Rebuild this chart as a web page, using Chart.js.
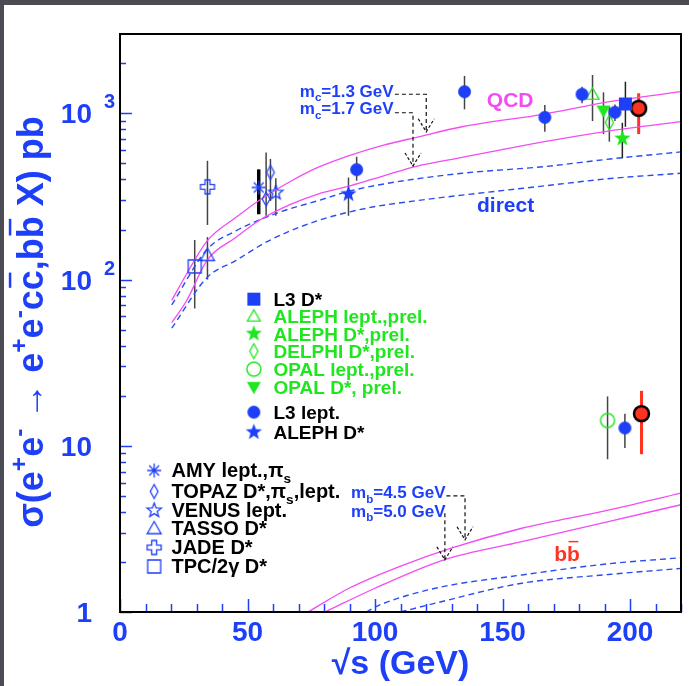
<!DOCTYPE html>
<html>
<head>
<meta charset="utf-8">
<script src="https://cdn.jsdelivr.net/npm/chart.js@4.4.0/dist/chart.umd.min.js"></script>
<style>
  html, body { margin: 0; padding: 0; background: #4a4b53; }
  canvas { display: block; }
</style>
</head>
<body>
<canvas id="xsec" width="689" height="686"></canvas>
<script>
// axis ticks
const xMajorTicks = [0, 50, 100, 150, 200];
const yDecades = [1, 10, 100, 1000];
const yBases = ['1', '10', '10', '10'];
const yExponents = ['', '', '2', '3'];

// theory curves  [sqrt(s) GeV, sigma pb]
const qcdMc13 = [[20.3, 75], [26.1, 108], [34.2, 171], [45.4, 236], [54.4, 298], [67.3, 393], [77.6, 473], [90.5, 561], [103.4, 644], [116.2, 717], [134.2, 830], [166.4, 990], [192.1, 1175], [220, 1349]];
const qcdMc17 = [[20.3, 55], [26.1, 74.5], [34.2, 131], [45.4, 179], [54.4, 226], [67.3, 285], [77.6, 327], [90.5, 367], [103.4, 421], [116.2, 480], [134.2, 543], [166.4, 675], [192.1, 785], [220, 891]];
const directMc13 = [[20.3, 70.5], [34.2, 152], [45.4, 196], [62.2, 253], [77.6, 298], [90.5, 342], [108.5, 387], [134.2, 436], [166.4, 478], [192.1, 531], [220, 586]];
const directMc17 = [[20.3, 51], [34.2, 103], [45.4, 130], [58.3, 171], [77.6, 226], [96.9, 269], [116.2, 298], [134.2, 322], [166.4, 366], [192.1, 405], [220, 436]];
const qcdMb45 = [[73.7, 1], [89.8, 1.39], [109.3, 1.87], [130.5, 2.44], [157.6, 3.19], [191.5, 4.1], [220, 5.19]];
const qcdMb50 = [[80.4, 1], [100, 1.39], [127.1, 2.06], [157.6, 2.65], [191.5, 3.5], [220, 4.42]];
const directMb45 = [[96.5, 1], [101.7, 1.1], [123.7, 1.39], [157.6, 1.67], [191.5, 1.95], [220, 2.12]];
const directMb50 = [[110, 1], [123.7, 1.13], [157.6, 1.49], [191.5, 1.68], [220, 1.83]];

// measurements  [sqrt(s), sigma, low, high]
const tpcDstar = [[29.3, 120, 67, 173]];
const tassoDstar = [[34.3, 140, 100, 180]];
const jadeDstar = [[34.3, 361, 213, 518]];
const amyLept = [[54.4, 358, 247, 460]];
const topazDstar = [[59.0, 441, 297, 531], [57.3, 305, 242, 582]];
const venusLept = [[61.1, 333, 242, 407]];
const alephDstar = [[89.6, 327, 242, 411]];
const l3Lept = [[92.8, 458, 393, 548], [135.1, 1349, 1057, 1679], [166.6, 946, 774, 1122], [181.2, 1302, 1148, 1446], [194.1, 1014, 900, 1130], [198, 12.8, 9.7, 15.6]];
const l3Dstar = [[198.2, 1138, 830, 1550]];
const alephLeptPrel = [[185.3, 1302, 898, 1700]];
const alephDstarPrel = [[197, 706, 536, 877]];
const delphiDstarPrel = [[191.9, 881, 675, 1096]];
const opalLeptPrel = [[191.2, 14.2, 8.3, 19.8]];
const opalDstarPrel = [[189.6, 1037, 750, 1337]];
const l3Combined = [[203.4, 1072, 750, 1320], [204.5, 15.6, 8.9, 21.4]];

// annotation anchors in data units
const mcArrowUpper = [[107.8, 1302], [120.1, 1302], [120.1, 774]];
const mcArrowLower = [[107.8, 1008], [114.9, 1008], [114.9, 482]];
const mbArrowUpper = [[128, 5.0], [135.3, 5.0], [135.3, 2.72]];
const mbArrowLower = [[127.4, 3.93], [127.4, 2.06]];
const mcLabels = [['c', '=1.3 GeV', 70.5, 1259], ['c', '=1.7 GeV', 70.5, 986]];
const mbLabels = [['b', '=4.5 GeV', 90.6, 4.83], ['b', '=5.0 GeV', 90.6, 3.75]];

const FAMILY = "'Liberation Sans', Arial, Helvetica, sans-serif";
const BLUE = '#1e3ff8';
const GREEN = '#1fe61f';
const MAGENTA = '#f24cf2';
const RED = '#ff3420';
const DASH_BLUE = '#2a4cf0';
const BAR = '#444';

function marker(shape, size, fill, stroke, lw) {
  const pad = 3;
  const c = document.createElement('canvas');
  const w = Math.ceil(size + pad * 2);
  c.width = c.height = w;
  const g = c.getContext('2d');
  const m = w / 2, r = size / 2;
  g.beginPath();
  if (shape === 'circle') {
    g.arc(m, m, r, 0, Math.PI * 2);
  } else if (shape === 'square') {
    g.rect(m - r, m - r, size, size);
  } else if (shape === 'triangle') {
    g.moveTo(m, m - r); g.lineTo(m + r, m + r * 0.75); g.lineTo(m - r, m + r * 0.75); g.closePath();
  } else if (shape === 'triangleDown') {
    g.moveTo(m, m + r); g.lineTo(m + r, m - r * 0.75); g.lineTo(m - r, m - r * 0.75); g.closePath();
  } else if (shape === 'diamond') {
    g.moveTo(m, m - r); g.lineTo(m + r * 0.55, m); g.lineTo(m, m + r); g.lineTo(m - r * 0.55, m); g.closePath();
  } else if (shape === 'star') {
    for (let k = 0; k < 10; k++) {
      const a = -Math.PI / 2 + k * Math.PI / 5;
      const rr = k % 2 ? r * 0.42 : r;
      k ? g.lineTo(m + rr * Math.cos(a), m + rr * Math.sin(a)) : g.moveTo(m + rr * Math.cos(a), m + rr * Math.sin(a));
    }
    g.closePath();
  } else if (shape === 'cross') {
    const t = r * 0.35;
    const pts = [[-t, -r], [t, -r], [t, -t], [r, -t], [r, t], [t, t], [t, r], [-t, r], [-t, t], [-r, t], [-r, -t], [-t, -t]];
    pts.forEach((p, k) => k ? g.lineTo(m + p[0], m + p[1]) : g.moveTo(m + p[0], m + p[1]));
    g.closePath();
  } else if (shape === 'asterisk') {
    for (let k = 0; k < 4; k++) {
      const a = k * Math.PI / 4;
      g.moveTo(m - r * Math.cos(a), m - r * Math.sin(a));
      g.lineTo(m + r * Math.cos(a), m + r * Math.sin(a));
    }
  }
  if (fill) { g.fillStyle = fill; g.fill(); }
  if (stroke) { g.lineWidth = lw; g.strokeStyle = stroke; g.stroke(); }
  return c;
}

const mk = {
  l3Dstar: marker('square', 13, BLUE),
  alephLeptPrel: marker('triangle', 13, null, GREEN, 1.3),
  alephDstarPrel: marker('star', 17, GREEN),
  delphiDstarPrel: marker('diamond', 15, null, GREEN, 1.3),
  opalLeptPrel: marker('circle', 14, null, GREEN, 1.5),
  opalDstarPrel: marker('triangleDown', 14, GREEN),
  l3Lept: marker('circle', 13, BLUE),
  alephDstar: marker('star', 17, BLUE),
  amyLept: marker('asterisk', 14, null, BLUE, 1.3),
  topazDstar: marker('diamond', 14, null, BLUE, 1.3),
  venusLept: marker('star', 15, null, BLUE, 1.3),
  tassoDstar: marker('triangle', 14, null, BLUE, 1.3),
  jadeDstar: marker('cross', 14, null, BLUE, 1.3),
  tpcDstar: marker('square', 13, null, BLUE, 1.3),
  l3Combined: marker('circle', 15, RED, '#000', 2.5)
};

function curve(rows, color, dashed) {
  return {
    type: 'line', data: rows.map(r => ({ x: r[0], y: r[1] })), order: 10,
    borderColor: color, borderWidth: dashed ? 1.4 : 1.3, borderDash: dashed ? [6, 4] : [],
    pointRadius: 0, tension: 0.4, cubicInterpolationMode: 'monotone', showLine: true
  };
}

function points(rows, key, errColor, errWidth) {
  return {
    type: 'scatter', data: rows.map(r => ({ x: r[0], y: r[1] })), order: 0,
    err: rows.map(r => [r[2], r[3]]), errColor: errColor || BAR, errWidth: errWidth || 1.5,
    pointStyle: mk[key], pointRadius: 7
  };
}

function richText(ctx, runs, x, y, size, align) {
  const font = s => `bold ${s}px ${FAMILY}`;
  let w = 0;
  const parts = runs.map(([t, k]) => {
    const s = (k === 'sup' || k === 'sub') ? size * 0.68 : size;
    ctx.font = font(s);
    const tw = ctx.measureText(t).width;
    w += tw;
    return { t, k, s, tw };
  });
  let cx = align === 'center' ? x - w / 2 : align === 'right' ? x - w : x;
  ctx.textAlign = 'left';
  ctx.textBaseline = 'alphabetic';
  parts.forEach(p => {
    ctx.font = font(p.s);
    const dy = p.k === 'sup' ? -size * 0.45 : p.k === 'sub' ? size * 0.28 : 0;
    ctx.fillText(p.t, cx, y + dy);
    if (p.k === 'bar') ctx.fillRect(cx + p.tw * 0.12, y - size * 0.95, p.tw * 0.76, Math.max(1.5, size * 0.07));
    cx += p.tw;
  });
  return w;
}

const pagePlugin = {
  id: 'page',
  beforeDraw(chart) {
    const { ctx, width, height } = chart;
    ctx.save();
    ctx.fillStyle = '#4a4b53';
    ctx.fillRect(0, 0, width, height);
    ctx.fillStyle = '#ffffff';
    ctx.fillRect(4, 5, width - 4, height - 5);
    ctx.restore();
  }
};

const errorBars = {
  id: 'errorBars',
  beforeDatasetsDraw(chart) {
    const { ctx } = chart;
    const ys = chart.scales.y;
    chart.data.datasets.forEach((ds, i) => {
      if (!ds.err) return;
      const meta = chart.getDatasetMeta(i);
      ctx.save();
      ctx.strokeStyle = ds.errColor;
      ctx.lineWidth = ds.errWidth;
      ds.err.forEach((e, j) => {
        const x = meta.data[j].x;
        ctx.beginPath();
        ctx.moveTo(x, ys.getPixelForValue(e[0]));
        ctx.lineTo(x, ys.getPixelForValue(e[1]));
        ctx.stroke();
      });
      ctx.restore();
    });
  }
};

function dashedArrow(chart, path) {
  const { ctx } = chart;
  const xs = chart.scales.x, ys = chart.scales.y;
  const p = path.map(q => [xs.getPixelForValue(q[0]), ys.getPixelForValue(q[1])]);
  ctx.save();
  ctx.strokeStyle = '#111';
  ctx.lineWidth = 1.2;
  ctx.setLineDash([4, 3]);
  ctx.beginPath();
  p.forEach((q, k) => k ? ctx.lineTo(q[0], q[1]) : ctx.moveTo(q[0], q[1]));
  ctx.stroke();
  const tip = p[p.length - 1];
  ctx.setLineDash([3, 2]);
  ctx.beginPath();
  ctx.moveTo(tip[0] - 8, tip[1] - 13); ctx.lineTo(tip[0], tip[1]); ctx.lineTo(tip[0] + 8, tip[1] - 13);
  ctx.stroke();
  ctx.restore();
}

const decorations = {
  id: 'decorations',
  afterDatasetsDraw(chart) {
    const { ctx, chartArea } = chart;
    const { left, right, top, bottom } = chartArea;
    const xs = chart.scales.x, ys = chart.scales.y;
    const line = (a, b, c, d) => { ctx.beginPath(); ctx.moveTo(a, b); ctx.lineTo(c, d); ctx.stroke(); };

    // inner tick marks
    ctx.save();
    ctx.strokeStyle = BLUE;
    ctx.lineWidth = 1.5;
    yDecades.forEach(d => {
      for (let k = 1; k < 10; k++) {
        const v = d * k;
        if (v >= ys.max) break;
        const py = Math.round(ys.getPixelForValue(v)) + 0.5;
        line(left, py, left + (k === 1 ? 12 : 6), py);
      }
    });
    for (let v = xs.min; v <= xs.max; v += 10) {
      const pxl = Math.round(xs.getPixelForValue(v)) + 0.5;
      line(pxl, bottom, pxl, bottom - (xMajorTicks.includes(v) ? 13 : 8));
    }
    ctx.strokeStyle = '#000';
    ctx.lineWidth = 2;
    ctx.strokeRect(left, top, right - left, bottom - top);
    ctx.restore();

    // mass arrows and labels
    [mcArrowUpper, mcArrowLower, mbArrowUpper, mbArrowLower].forEach(p => dashedArrow(chart, p));
    ctx.save();
    ctx.fillStyle = BLUE;
    mcLabels.concat(mbLabels).forEach(([q, txt, x, y]) => {
      richText(ctx, [['m', ''], [q, 'sub'], [txt, '']], xs.getPixelForValue(x), ys.getPixelForValue(y), 17, 'left');
    });

    // curve labels
    ctx.textAlign = 'center';
    ctx.textBaseline = 'middle';
    ctx.font = `bold 21px ${FAMILY}`;
    ctx.fillStyle = MAGENTA;
    ctx.fillText('QCD', xs.getPixelForValue(153), ys.getPixelForValue(1186));
    ctx.fillStyle = BLUE;
    ctx.fillText('direct', xs.getPixelForValue(151.2), ys.getPixelForValue(276));
    ctx.fillStyle = RED;
    richText(ctx, [['b', ''], ['b', 'bar']], xs.getPixelForValue(175.3), ys.getPixelForValue(2.27) + 8, 21, 'center');
    ctx.restore();
  }
};

const mainLegend = [
  ['l3Dstar', [['L3 D*', '']], '#000'],
  ['alephLeptPrel', [['ALEPH lept.,prel.', '']], GREEN],
  ['alephDstarPrel', [['ALEPH D*,prel.', '']], GREEN],
  ['delphiDstarPrel', [['DELPHI D*,prel.', '']], GREEN],
  ['opalLeptPrel', [['OPAL lept.,prel.', '']], GREEN],
  ['opalDstarPrel', [['OPAL D*, prel.', '']], GREEN],
  ['l3Lept', [['L3 lept.', '']], '#000'],
  ['alephDstar', [['ALEPH D*', '']], '#000']
];
const mainRowOffsets = [0, 17, 34.5, 52, 70, 88, 113, 133];
const lowLegend = [
  ['amyLept', [['AMY lept.,\u03c0', ''], ['s', 'sub']]],
  ['topazDstar', [['TOPAZ D*,\u03c0', ''], ['s', 'sub'], [',lept.', '']]],
  ['venusLept', [['VENUS lept.', '']]],
  ['tassoDstar', [['TASSO D*', '']]],
  ['jadeDstar', [['JADE D*', '']]],
  ['tpcDstar', [['TPC/2\u03b3 D*', '']]]
];
const lowRowOffsets = [0, 21, 40, 58, 77, 96];

const legends = {
  id: 'legends',
  afterDraw(chart) {
    const { ctx } = chart;
    const xs = chart.scales.x, ys = chart.scales.y;
    ctx.save();
    let mx = xs.getPixelForValue(52.5), tx = xs.getPixelForValue(60.2), y0 = ys.getPixelForValue(76.2);
    mainLegend.forEach(([key, runs, color], i) => {
      const y = y0 + mainRowOffsets[i];
      const img = mk[key];
      ctx.drawImage(img, mx - img.width / 2, y - img.height / 2);
      ctx.fillStyle = color;
      richText(ctx, runs, tx, y + 7, 19, 'left');
    });
    mx = xs.getPixelForValue(13.4); tx = xs.getPixelForValue(20.2); y0 = ys.getPixelForValue(7.1);
    lowLegend.forEach(([key, runs], i) => {
      const y = y0 + lowRowOffsets[i];
      const img = mk[key];
      ctx.drawImage(img, mx - img.width / 2, y - img.height / 2);
      ctx.fillStyle = '#000';
      richText(ctx, runs, tx, y + 7, 20, 'left');
    });
    ctx.restore();
  }
};

const yAxisText = {
  id: 'yAxisText',
  afterDraw(chart) {
    const { ctx, chartArea } = chart;
    const ys = chart.scales.y;
    ctx.save();
    ctx.fillStyle = BLUE;
    yDecades.forEach((v, i) => {
      const py = ys.getPixelForValue(v);
      ctx.font = `bold 28px ${FAMILY}`;
      ctx.textAlign = 'right';
      ctx.textBaseline = 'alphabetic';
      ctx.fillText(yBases[i], chartArea.left - 28, py + 10);
      if (yExponents[i]) {
        ctx.font = `bold 20px ${FAMILY}`;
        ctx.textAlign = 'left';
        ctx.fillText(yExponents[i], chartArea.left - 16, py - 5);
      }
    });
    ctx.translate(43, 322);
    ctx.rotate(-Math.PI / 2);
    richText(ctx, [
      ['\u03c3(e', ''], ['+', 'sup'], ['e', ''], ['-', 'sup'], [' \u2192 e', ''], ['+', 'sup'], ['e', ''], ['-', 'sup'],
      ['c', ''], ['c', 'bar'], [',b', ''], ['b', 'bar'], [' X) pb', '']
    ], 0, 0, 36, 'center');
    ctx.restore();
  }
};

new Chart(document.getElementById('xsec'), {
  type: 'scatter',
  data: {
    datasets: [
      curve(qcdMc13, MAGENTA), curve(qcdMc17, MAGENTA),
      curve(directMc13, DASH_BLUE, true), curve(directMc17, DASH_BLUE, true),
      curve(qcdMb45, MAGENTA), curve(qcdMb50, MAGENTA),
      curve(directMb45, DASH_BLUE, true), curve(directMb50, DASH_BLUE, true),
      points(tpcDstar, 'tpcDstar'),
      points(tassoDstar, 'tassoDstar'),
      points(jadeDstar, 'jadeDstar'),
      points(amyLept, 'amyLept', '#000', 3.5),
      points(topazDstar, 'topazDstar'),
      points(venusLept, 'venusLept'),
      points(alephDstar, 'alephDstar'),
      points(l3Lept, 'l3Lept'),
      points(l3Dstar, 'l3Dstar', '#222'),
      points(alephLeptPrel, 'alephLeptPrel'),
      points(alephDstarPrel, 'alephDstarPrel', '#222'),
      points(delphiDstarPrel, 'delphiDstarPrel'),
      points(opalLeptPrel, 'opalLeptPrel'),
      points(opalDstarPrel, 'opalDstarPrel'),
      points(l3Combined, 'l3Combined', RED, 3)
    ]
  },
  options: {
    responsive: false,
    animation: false,
    devicePixelRatio: 1,
    layout: { padding: { top: 34, right: 1, left: 0, bottom: 0 } },
    plugins: { legend: { display: false }, tooltip: { enabled: false } },
    scales: {
      x: {
        type: 'linear', min: 0, max: 220,
        grid: { display: false, drawTicks: false }, border: { display: false },
        ticks: {
          stepSize: 50, includeBounds: false, autoSkip: false, maxRotation: 0, padding: 4,
          color: BLUE, font: { family: FAMILY, size: 28, weight: 'bold' }
        },
        title: {
          display: true, text: '\u221as (GeV)', color: BLUE, padding: { top: 0, bottom: 1 },
          font: { family: FAMILY, size: 34, weight: 'bold' }
        },
        afterFit(s) { s.height = 74; }
      },
      y: {
        type: 'logarithmic', min: 1, max: 3000,
        grid: { display: false, drawTicks: false }, border: { display: false },
        ticks: { display: false },
        afterFit(s) { s.width = 120; }
      }
    }
  },
  plugins: [pagePlugin, errorBars, decorations, legends, yAxisText]
});
</script>
</body>
</html>
